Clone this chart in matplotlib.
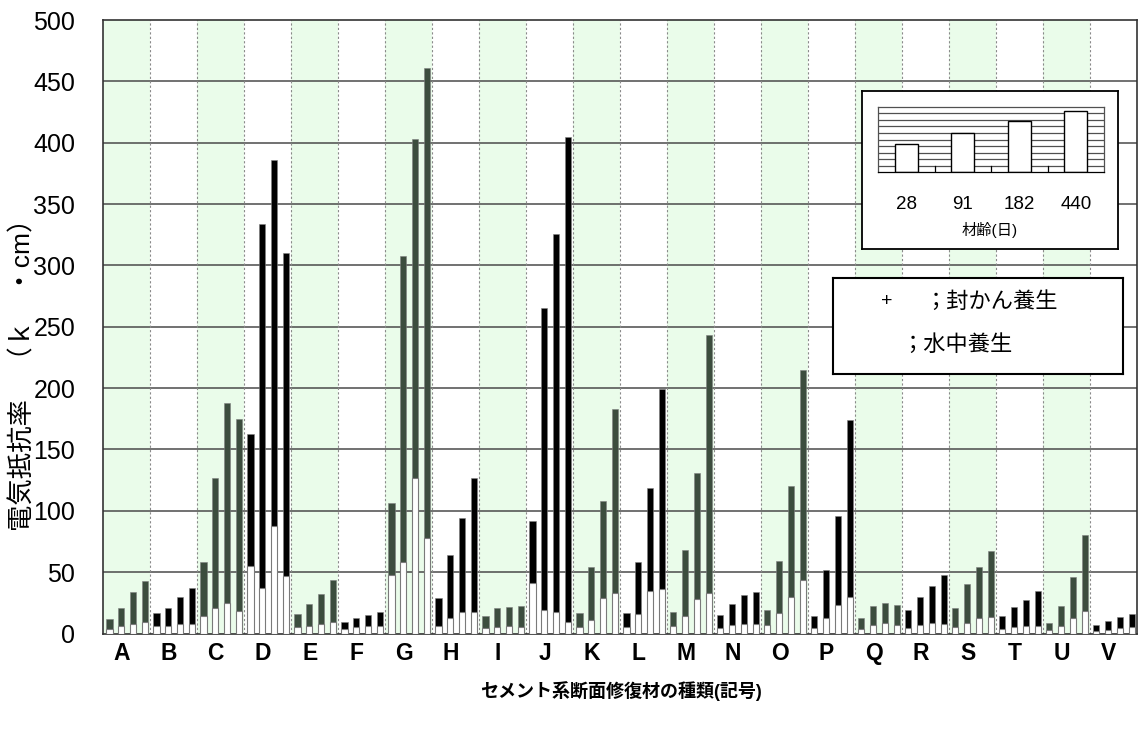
import matplotlib
matplotlib.use("Agg")
import matplotlib.pyplot as plt
import numpy as np

plt.rcParams['font.family'] = ['Liberation Sans', 'Noto Sans CJK JP', 'DejaVu Sans']

groups = list("ABCDEFGHIJKLMNOPQRSTUV")
ages = ["28", "91", "182", "440"]

# dark bar tops (sealed + water) per group, ages 28/91/182/440
total = [
    [12, 21, 34, 43],      # A
    [17, 21, 30, 37],      # B
    [58, 127, 188, 175],   # C
    [163, 334, 386, 310],  # D
    [16, 24, 32, 44],      # E
    [9, 12.5, 15.5, 17.5], # F
    [106, 308, 403, 461],  # G
    [29, 64, 94, 127],     # H
    [14, 20.5, 21.5, 22.5],# I
    [92, 265, 326, 405],   # J
    [16.5, 54, 108, 183],  # K
    [16.5, 58, 119, 199],  # L
    [17.5, 68, 131, 243],  # M
    [15.5, 24, 31, 34],    # N
    [19, 59.5, 120, 215],  # O
    [14, 51.5, 96, 174],   # P
    [13, 22.5, 25, 23],    # Q
    [19.5, 30, 38.5, 47.5],# R
    [20.5, 40, 54.5, 67.5],# S
    [14, 21.5, 27.5, 35],  # T
    [8.5, 22.5, 46, 80],   # U
    [7, 10.5, 13.5, 16],   # V
]

# white inner bars (water curing)
water = [
    [4, 6, 8, 9],
    [6, 6, 8, 8],
    [14, 20.5, 25, 18],
    [55, 37, 88, 47],
    [5, 6, 8, 9],
    [4, 5.5, 6, 6.5],
    [48, 58, 127, 78],
    [6, 12.5, 17.5, 17.5],
    [4.5, 5.5, 6, 5],
    [41, 19, 17.5, 9],
    [5, 11, 29, 33],
    [5.5, 16, 35, 36.5],
    [6, 14, 28, 33],
    [4.5, 7, 8, 7.5],
    [7, 16.5, 29.5, 44],
    [4.5, 12.5, 23.5, 30],
    [3.5, 7, 8.5, 7],
    [4.5, 7, 8.5, 8],
    [5, 8.5, 12.5, 13.5],
    [3.5, 5, 6, 6],
    [3, 6.5, 13, 18],
    [2, 3, 4.5, 5],
]

inset_heights = [43, 60, 79, 93]

green = '#3c4d3e'
bg = '#eafcea'

fig = plt.figure(figsize=(11.39, 7.33), dpi=100)
ax = fig.add_axes([0.0904, 0.1357, 0.9076, 0.8370])

n = len(groups)
for i in range(n):
    if i % 2 == 0:
        ax.axvspan(i, i + 1, color=bg, zorder=0, lw=0)

for y in range(50, 500, 50):
    ax.axhline(y, color='#4a4a4a', lw=1.1, zorder=1)
for i in range(1, n):
    ax.axvline(i, color='#8a8a8a', lw=0.8, ls=(0, (2, 2)), zorder=1)

width = 0.135
offs = 0.138 + 0.252 * np.arange(4)
for i in range(n):
    col = green if i % 2 == 0 else 'black'
    xs = i + offs
    ax.bar(xs, total[i], width=width, color=col, edgecolor='#808080', lw=0.4, zorder=2)
    ax.bar(xs, water[i], width=width, color='white', edgecolor='#7a7a7a', lw=0.8, zorder=3)

ax.set_xlim(0, n)
ax.set_ylim(0, 500)
ax.set_yticks(np.arange(0, 501, 50))
ax.tick_params(axis='y', length=0, pad=20, labelsize=18)
ax.set_xticks(np.arange(n) + 0.40)
ax.set_xticklabels(groups, fontsize=16.5, fontweight='bold')
ax.tick_params(axis='x', length=0, pad=6)
for s in ax.spines.values():
    s.set_color('#333333')
    s.set_linewidth(1.2)

fig.text(0.020, 0.497, "電気抵抗率　（ｋ　・cm）", rotation=90, fontsize=19,
         ha='center', va='center')
fig.text(0.545, 0.057, "セメント系断面修復材の種類(記号)", fontsize=13,
         fontweight='bold', ha='center', va='center')

# age inset
box = fig.add_axes([0.7568, 0.6603, 0.2248, 0.2156])
box.set_xticks([])
box.set_yticks([])
box.set_facecolor('white')
for s in box.spines.values():
    s.set_linewidth(1.3)
    s.set_color('black')
box.set_zorder(5)

mini = fig.add_axes([0.7709, 0.7649, 0.1984, 0.0895])
mini.set_zorder(6)
mini.set_xlim(0, 4)
mini.set_ylim(0, 100)
for y in range(10, 100, 10):
    mini.axhline(y, color='#505050', lw=0.9, zorder=1)
mini.bar(np.arange(4) + 0.5, inset_heights, width=0.4, color='white',
         edgecolor='black', lw=1.0, zorder=2)
for k in range(1, 4):
    mini.plot([k, k], [0, 10], color='black', lw=0.9)
mini.set_xticks(np.arange(4) + 0.5)
mini.set_xticklabels(ages, fontsize=13.5)
mini.tick_params(axis='x', length=0, pad=17)
mini.set_yticks([])
for s in mini.spines.values():
    s.set_color('#505050')
    s.set_linewidth(0.9)
mini.spines['bottom'].set_color('black')
fig.text(0.8692, 0.686, "材齢(日)", fontsize=11, ha='center', va='center', zorder=7)

# curing legend
leg = fig.add_axes([0.7313, 0.4898, 0.2546, 0.131])
leg.set_zorder(5)
leg.set_xticks([])
leg.set_yticks([])
for s in leg.spines.values():
    s.set_linewidth(1.5)
    s.set_color('black')
leg.text(0.186, 0.75, "+", fontsize=14, ha='center', va='center', transform=leg.transAxes)
leg.text(0.315, 0.75, "；封かん養生", fontsize=16, ha='left', va='center', transform=leg.transAxes)
leg.text(0.235, 0.30, "；水中養生", fontsize=16, ha='left', va='center', transform=leg.transAxes)

fig.savefig("out.png", dpi=100)
